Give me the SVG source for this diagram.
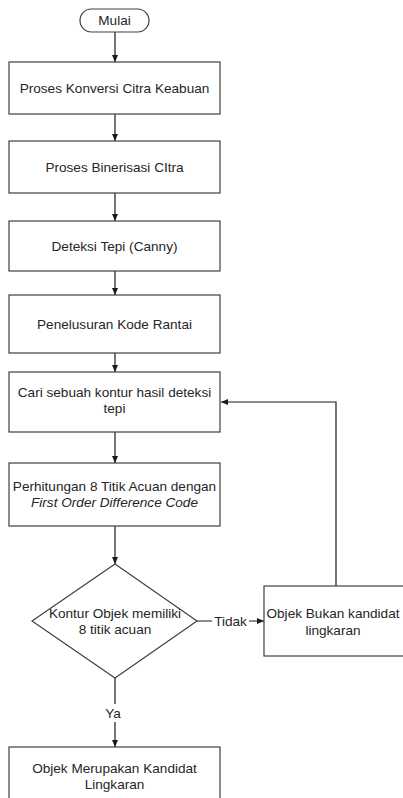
<svg xmlns="http://www.w3.org/2000/svg" width="403" height="798" viewBox="0 0 403 798">
<style>
.n{fill:#fff;stroke:#404040;stroke-width:1.2}
.t{font-family:"Liberation Sans",Arial,sans-serif;font-size:13.6px;fill:#262626;text-anchor:middle;dominant-baseline:central}
.c{fill:none;stroke:#1a1a1a;stroke-width:1.2}
.lb{fill:#fff;stroke:none}
</style>
<defs>
<marker id="ah" markerWidth="8" markerHeight="8" refX="7" refY="4" orient="auto" markerUnits="userSpaceOnUse">
<path d="M0,1 L7,4 L0,7 Z" fill="#1a1a1a"/>
</marker>
</defs>
<rect width="403" height="798" fill="#fff"/>
<g id="connectors">
<line class="c" x1="115" y1="32" x2="115" y2="62" marker-end="url(#ah)"/>
<line class="c" x1="115" y1="114" x2="115" y2="141" marker-end="url(#ah)"/>
<line class="c" x1="115" y1="193" x2="115" y2="221" marker-end="url(#ah)"/>
<line class="c" x1="115" y1="271" x2="115" y2="295" marker-end="url(#ah)"/>
<line class="c" x1="115" y1="353" x2="115" y2="372" marker-end="url(#ah)"/>
<line class="c" x1="115" y1="432" x2="115" y2="463" marker-end="url(#ah)"/>
<line class="c" x1="115" y1="526" x2="115" y2="564" marker-end="url(#ah)"/>
<line class="c" x1="197" y1="621" x2="264" y2="621" marker-end="url(#ah)"/>
<rect class="lb" x="212" y="613" width="37" height="16"/>
<text class="t" x="230.5" y="621">Tidak</text>
<line class="c" x1="115" y1="678" x2="115" y2="747" marker-end="url(#ah)"/>
<rect class="lb" x="103" y="704" width="24" height="18"/>
<text class="t" x="113" y="713">Ya</text>
<polyline class="c" points="336,586 336,402 221,402" marker-end="url(#ah)"/>
</g>
<g id="mulai">
<rect class="n" x="80" y="9" width="69" height="23" rx="11.5"/>
<text class="t" x="114.5" y="20.5">Mulai</text>
</g>
<g id="konversi">
<rect class="n" x="9" y="62" width="211" height="52"/>
<text class="t" x="114.5" y="88">Proses Konversi Citra Keabuan</text>
</g>
<g id="binerisasi">
<rect class="n" x="9" y="141" width="211" height="52"/>
<text class="t" x="114.5" y="167">Proses Binerisasi CItra</text>
</g>
<g id="canny">
<rect class="n" x="9" y="221" width="211" height="50"/>
<text class="t" x="114.5" y="246">Deteksi Tepi (Canny)</text>
</g>
<g id="kode-rantai">
<rect class="n" x="9" y="295" width="211" height="58"/>
<text class="t" x="114.5" y="324">Penelusuran Kode Rantai</text>
</g>
<g id="cari-kontur">
<rect class="n" x="9" y="372" width="211" height="60"/>
<text class="t" x="114.5" y="392">Cari sebuah kontur hasil deteksi</text>
<text class="t" x="114.5" y="408">tepi</text>
</g>
<g id="titik-acuan">
<rect class="n" x="9" y="463" width="211" height="63"/>
<text class="t" x="114.5" y="486">Perhitungan 8 Titik Acuan dengan</text>
<text class="t" x="114.5" y="502" font-style="italic">First Order Difference Code</text>
</g>
<g id="keputusan">
<polygon class="n" points="115,564 197,621 115,678 32,621"/>
<text class="t" x="115" y="613">Kontur Objek memiliki</text>
<text class="t" x="115" y="629">8 titik acuan</text>
</g>
<g id="bukan-kandidat">
<rect class="n" x="264" y="586" width="145" height="70"/>
<text class="t" x="333" y="613">Objek Bukan kandidat</text>
<text class="t" x="333" y="630">lingkaran</text>
</g>
<g id="kandidat">
<rect class="n" x="9" y="747" width="211" height="60"/>
<text class="t" x="114.5" y="768">Objek Merupakan Kandidat</text>
<text class="t" x="114.5" y="784">Lingkaran</text>
</g>
</svg>
